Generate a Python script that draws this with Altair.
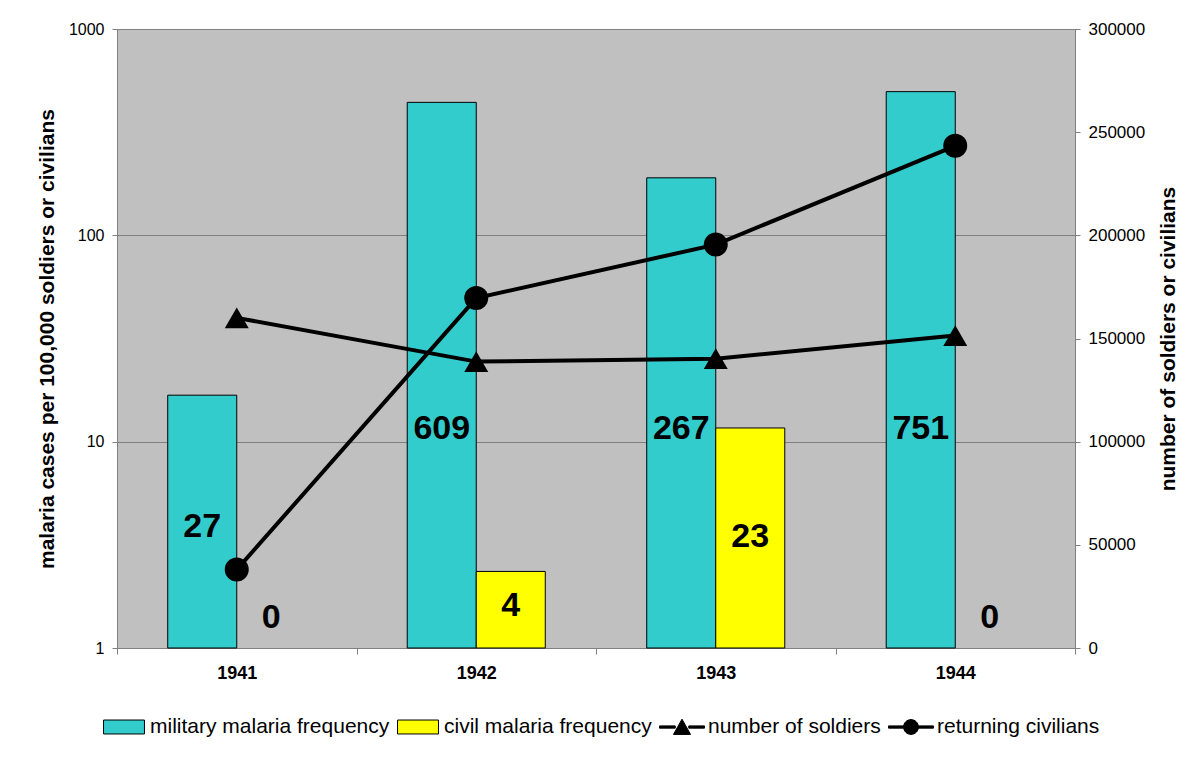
import altair as alt
import pandas as pd

# ---- data ----
years = ["1941", "1942", "1943", "1944"]
military_freq = [16.8, 441, 190, 497]          # cases per 100,000 soldiers (log axis)
civil_freq = [None, 2.35, 11.65, None]         # cases per 100,000 civilians (log axis)
military_cases = [27, 609, 267, 751]           # label numbers
civil_cases = [0, 4, 23, 0]
military_label_at = [3.85, 11.5, 11.5, 11.5]   # where the labels sit on the log axis
civil_label_at = [1.40, 1.60, 3.46, 1.40]
soldiers = [160000, 138800, 140200, 151400]
civilians = [38000, 169600, 195500, 243400]

series = ["military malaria frequency", "civil malaria frequency",
          "number of soldiers", "returning civilians"]
series_colors = ["#33CCCC", "#FFFF00", "black", "black"]
legend_paths = [
    "M-0.91,-0.31H0.91V0.31H-0.91Z",
    "M-0.91,-0.31H0.91V0.31H-0.91Z",
    "M-1,-0.05H-0.3V0.05H-1Z M0.3,-0.05H1V0.05H0.3Z M-0.38,0.33L0,-0.35L0.38,0.33Z",
    "M-1,-0.05H-0.3V0.05H-1Z M0.3,-0.05H1V0.05H0.3Z M-0.33,0A0.33,0.33 0 1,1 0.33,0A0.33,0.33 0 1,1 -0.33,0Z",
]

FONT = "Liberation Sans, Arial, sans-serif"

bars = pd.DataFrame({
    "year": years * 2,
    "series": [series[0]] * 4 + [series[1]] * 4,
    "freq": military_freq + civil_freq,
    "cases": military_cases + civil_cases,
    "label_at": military_label_at + civil_label_at,
    "color": [series_colors[0]] * 4 + [series_colors[1]] * 4,
})
lines = pd.DataFrame({
    "year": years * 2,
    "series": [series[2]] * 4 + [series[3]] * 4,
    "count": soldiers + civilians,
})
legend_df = pd.DataFrame({"series": series})

x_enc = alt.X("year:N", sort=years,
              scale=alt.Scale(paddingInner=0, paddingOuter=0),
              axis=alt.Axis(title=None, labelAngle=0, labelFontWeight="bold",
                            labelFontSize=18, labelFont=FONT, labelColor="black",
                            tickBand="extent", tickSize=6, tickColor="#808080",
                            domainColor="#808080", labelPadding=10, grid=False))
xoff = alt.XOffset("series:N", sort=series[:2],
                   scale=alt.Scale(domain=series[:2], paddingOuter=0.735, paddingInner=0))

log_scale = alt.Scale(type="log", domain=[1, 1000], nice=False)
y_left = alt.Y("freq:Q", scale=log_scale,
               axis=alt.Axis(title="malaria cases per 100,000 soldiers or civilians",
                             values=[1, 10, 100, 1000], format="d",
                             titleFont=FONT, titleFontSize=21, titleFontWeight="bold",
                             titleColor="black", titlePadding=11,
                             labelFont=FONT, labelFontSize=16, labelColor="black",
                             labelPadding=8, tickSize=5, tickColor="#808080",
                             domainColor="#808080", grid=True, gridColor="#808080",
                             gridWidth=1))

bar_layer = alt.Chart(bars).transform_filter("isValid(datum.freq)").mark_bar(
    stroke="black", strokeWidth=1
).encode(
    x=x_enc, xOffset=xoff, y=y_left, y2=alt.Y2(datum=1),
    fill=alt.Fill("color:N", scale=None),
)

label_layer = alt.Chart(bars).mark_text(
    font=FONT, fontSize=34, fontWeight="bold", color="black", baseline="middle"
).encode(
    x=x_enc, xOffset=xoff,
    y=alt.Y("label_at:Q", scale=log_scale),
    text="cases:Q",
)

left = alt.layer(bar_layer, label_layer)

y_right = alt.Y("count:Q",
                scale=alt.Scale(domain=[0, 300000], nice=False, zero=True),
                axis=alt.Axis(orient="right", title="number of soldiers or civilians",
                              values=list(range(0, 300001, 50000)), format="d",
                              titleAngle=270, titleBaseline="top", titleFont=FONT,
                              titleFontSize=21, titleFontWeight="bold",
                              titleColor="black", titlePadding=13,
                              labelFont=FONT, labelFontSize=17, labelColor="black",
                              labelPadding=8, tickSize=5, tickColor="#808080",
                              domainColor="#808080", grid=False))

line_layer = alt.Chart(lines).mark_line(color="black", strokeWidth=4).encode(
    x=x_enc, y=y_right, detail="series:N"
)
tri_layer = alt.Chart(lines).transform_filter(
    alt.datum.series == series[2]
).mark_point(shape="triangle-up", filled=True, color="black", size=576, opacity=1).encode(
    x=x_enc, y=y_right
)
circ_layer = alt.Chart(lines).transform_filter(
    alt.datum.series == series[3]
).mark_point(shape="circle", filled=True, color="black", size=576, opacity=1).encode(
    x=x_enc, y=y_right
)

leg = alt.Legend(title=None, orient="none", direction="horizontal",
                 legendX=-16, legendY=675, columns=4)
legend_layer = alt.Chart(legend_df).transform_filter("false").mark_point(
    filled=True, strokeWidth=1, opacity=1
).encode(
    fill=alt.Fill("series:N", scale=alt.Scale(domain=series, range=series_colors),
                  legend=leg),
    shape=alt.Shape("series:N", scale=alt.Scale(domain=series, range=legend_paths),
                    legend=leg),
    stroke=alt.Stroke("series:N", scale=alt.Scale(domain=series, range=["black"] * 4),
                      legend=leg),
)

right = alt.layer(line_layer, tri_layer, circ_layer, legend_layer)

chart = alt.layer(left, right).resolve_scale(y="independent").properties(
    width=958, height=619,
    autosize=alt.AutoSizeParams(type="none"),
    padding={"left": 109, "top": 21, "right": 117, "bottom": 107},
    view=alt.ViewBackground(fill="#C0C0C0", stroke="#808080", strokeWidth=1),
).configure_view(
    fill="#C0C0C0", stroke="#808080", strokeWidth=1
).configure_legend(
    labelFont=FONT, labelFontSize=21, labelColor="black", labelOffset=3,
    symbolSize=2025, symbolStrokeColor="black", symbolStrokeWidth=1,
    symbolOpacity=1, columnPadding=5, padding=0, labelLimit=400,
)

chart.save("out.html", embed_options={"renderer": "svg", "actions": False})
